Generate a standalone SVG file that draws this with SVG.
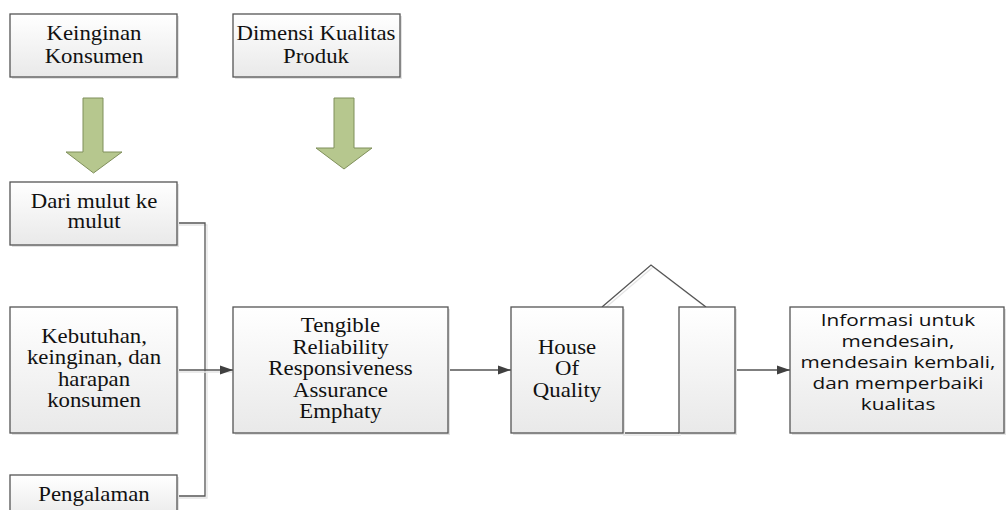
<svg xmlns="http://www.w3.org/2000/svg" width="1006" height="510" viewBox="0 0 1006 510">
<defs>
<linearGradient id="bg" x1="0" y1="0" x2="0" y2="1">
<stop offset="0" stop-color="#ffffff"/>
<stop offset="1" stop-color="#e9e9e9"/>
</linearGradient>
<marker id="ah" markerWidth="13" markerHeight="10" refX="13" refY="5" orient="auto" markerUnits="userSpaceOnUse">
<path d="M0,0.5 L13,5 L0,9.5 Z" fill="#404040"/>
</marker>
<style>
.box{fill:url(#bg);stroke:#555;stroke-width:1.3}
.shd{fill:#e2e2e2;stroke:none}
.ser{font-family:"Liberation Serif","Times New Roman",serif;font-size:20px;fill:#111;text-anchor:middle}
.san{font-family:"Open Sans","Noto Sans",sans-serif;font-size:16px;fill:#111;text-anchor:middle}
.con{fill:none;stroke:#555;stroke-width:1.3}
.cs{fill:none;stroke:#e4e4e4;stroke-width:1.3}
.arr{fill:#b6c78e;stroke:#7f8f5a;stroke-width:1}
</style>
</defs>
<rect width="1006" height="510" fill="#fff"/>

<g id="connectors">
<path class="cs" d="M178,225 H207 V498 H178"/>
<path class="con" d="M177,223 H205 V496 H177"/>
<line class="cs" x1="178" y1="372" x2="232" y2="372"/>
<line class="con" x1="177" y1="370" x2="233" y2="370" marker-end="url(#ah)"/>
<line class="con" x1="448" y1="370" x2="511" y2="370" marker-end="url(#ah)"/>
<line class="con" x1="735" y1="370" x2="790" y2="370" marker-end="url(#ah)"/>
</g>

<g id="keinginan">
<rect class="shd" x="12" y="16" width="167" height="63"/>
<rect class="box" x="10" y="14" width="167" height="63"/>
<g transform="translate(94,0) scale(1.14,1)"><text class="ser" x="0" y="40.5">Keinginan</text><text class="ser" x="0" y="63">Konsumen</text></g>
</g>

<g id="dimensi">
<rect class="shd" x="235" y="16" width="167" height="63"/>
<rect class="box" x="233" y="14" width="167" height="63"/>
<g transform="translate(316,0) scale(1.14,1)"><text class="ser" x="0" y="40.5">Dimensi Kualitas</text><text class="ser" x="0" y="63">Produk</text></g>
</g>

<g id="arrow1">
<path class="arr" d="M83,98 H103 V152 H122 L93.5,173 L66,152 H83 Z"/>
</g>
<g id="arrow2">
<path class="arr" d="M334,98 H354 V148 H372 L344,169 L316,148 H334 Z"/>
</g>

<g id="dari">
<rect class="shd" x="12" y="184" width="167" height="63"/>
<rect class="box" x="10" y="182" width="167" height="63"/>
<g transform="translate(94,0) scale(1.14,1)"><text class="ser" x="0" y="208">Dari mulut ke</text><text class="ser" x="0" y="228.5">mulut</text></g>
</g>

<g id="kebutuhan">
<rect class="shd" x="12" y="309" width="167" height="126"/>
<rect class="box" x="10" y="307" width="167" height="126"/>
<g transform="translate(94,0) scale(1.14,1)"><text class="ser" x="0" y="343">Kebutuhan,</text><text class="ser" x="0" y="364.5">keinginan, dan</text><text class="ser" x="0" y="386">harapan</text><text class="ser" x="0" y="407.5">konsumen</text></g>
</g>

<g id="pengalaman">
<rect class="shd" x="12" y="477" width="167" height="40"/>
<rect class="box" x="10" y="475" width="167" height="45"/>
<g transform="translate(94,0) scale(1.14,1)"><text class="ser" x="0" y="501">Pengalaman</text></g>
</g>

<g id="dimensi-list">
<rect class="shd" x="235" y="309" width="215" height="126"/>
<rect class="box" x="233" y="307" width="215" height="126"/>
<g transform="translate(340.5,0) scale(1.14,1)"><text class="ser" x="0" y="332.5">Tengible</text><text class="ser" x="0" y="354">Reliability</text><text class="ser" x="0" y="375.5">Responsiveness</text><text class="ser" x="0" y="397">Assurance</text><text class="ser" x="0" y="418">Emphaty</text></g>
</g>

<g id="house">
<path class="cs" d="M604,309 L653,267 L708,309"/>
<path class="con" d="M602,307 L651,265 L706,307"/>
<line class="cs" x1="623" y1="435" x2="681" y2="435"/>
<line class="con" x1="623" y1="433" x2="679" y2="433"/>
<rect class="shd" x="513" y="309" width="112" height="126"/>
<rect class="box" x="511" y="307" width="112" height="126"/>
<rect class="shd" x="681" y="309" width="56" height="126"/>
<rect class="box" x="679" y="307" width="56" height="126"/>
<g transform="translate(567,0) scale(1.14,1)"><text class="ser" x="0" y="354">House</text><text class="ser" x="0" y="375.5">Of</text><text class="ser" x="0" y="397">Quality</text></g>
</g>

<g id="informasi">
<rect class="shd" x="792" y="309" width="215" height="126"/>
<rect class="box" x="790" y="307" width="214" height="126"/>
<g transform="translate(898,0) scale(1.3,1)"><text class="san" x="0" y="326">Informasi untuk</text><text class="san" x="0" y="347">mendesain,</text><text class="san" x="0" y="368">mendesain kembali,</text><text class="san" x="0" y="389">dan memperbaiki</text><text class="san" x="0" y="410">kualitas</text></g>
</g>
</svg>
